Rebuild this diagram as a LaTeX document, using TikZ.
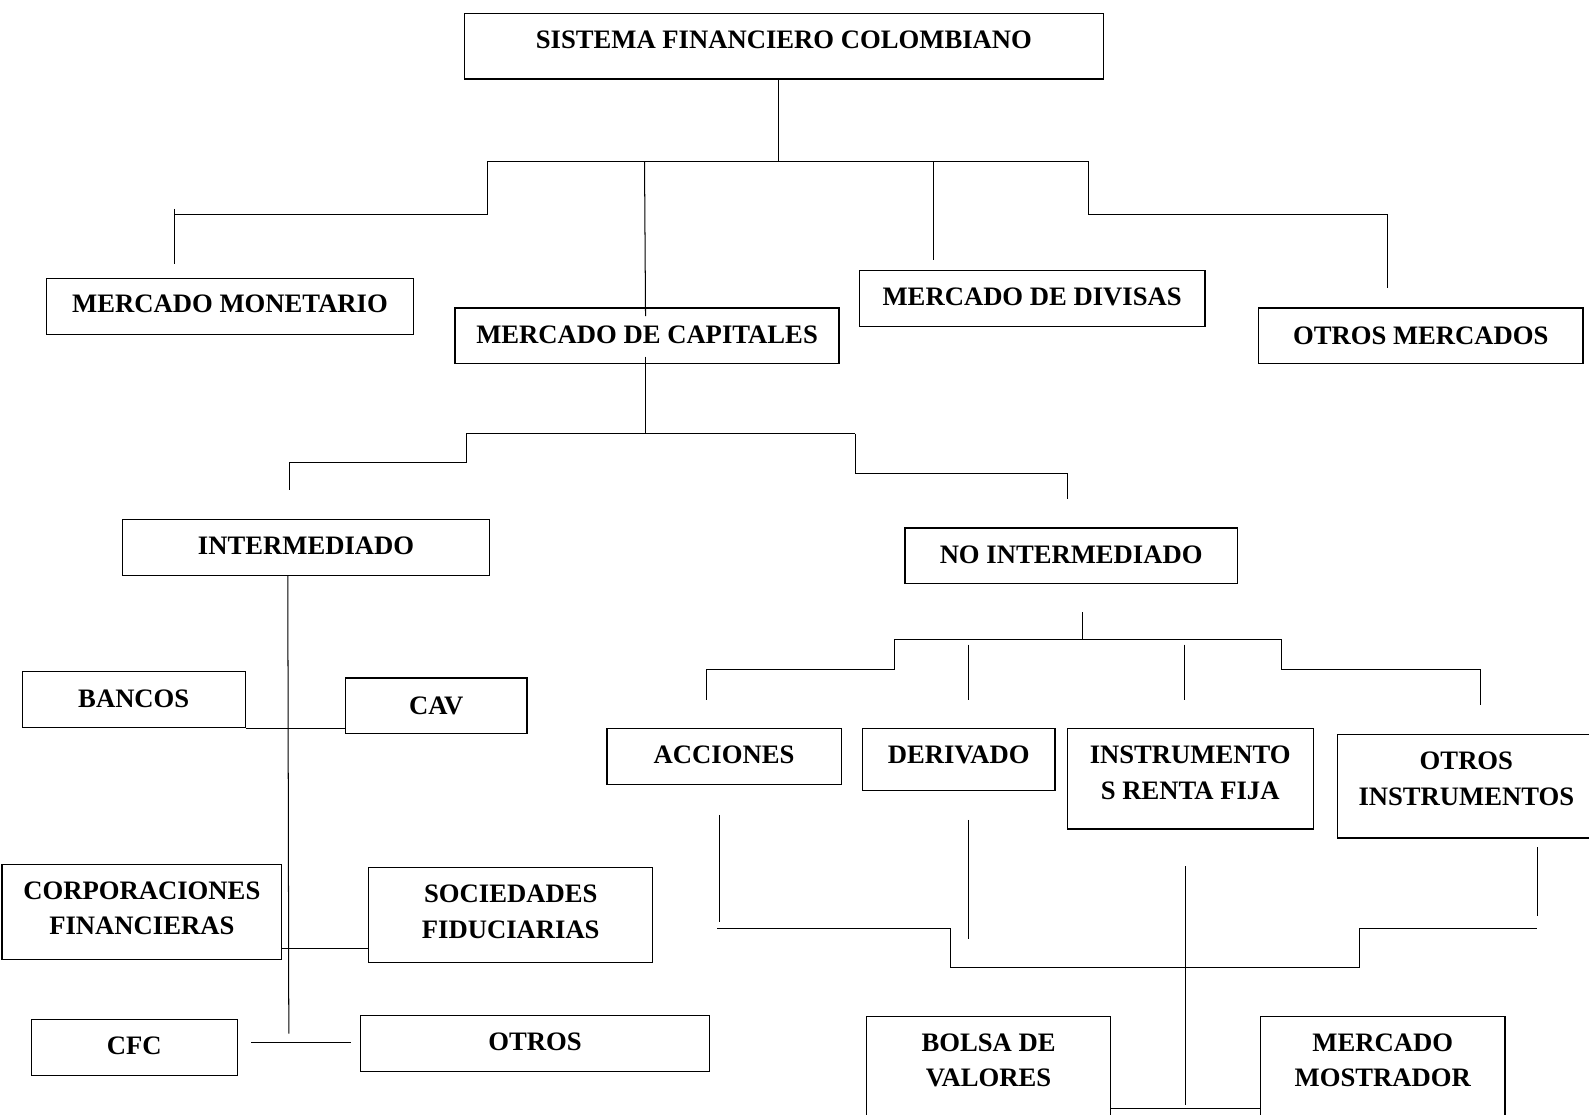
\documentclass[tikz,border=0pt]{standalone}
\usepackage{fontspec}
\setmainfont{Liberation Serif}

\newcommand{\rotulofont}{\fontsize{26.3}{35}\selectfont\bfseries}
% box: name, x1, y1, x2, y2, top of first line, text
\newcommand{\caja}[7]{%
  \node[caja, minimum width={(#4-#2)*1pt}, minimum height={(#5-#3)*1pt}]
    (#1) at ({(#2+#4)/2},{(#3+#5)/2}) {};
  \node[rotulo] (#1-txt) at ({(#2+#4)/2},#6) {#7};}

\begin{document}
\begin{tikzpicture}[x=1pt, y=-1pt,
    caja/.style={draw, line width=1.2pt, inner sep=0pt},
    rotulo/.style={font=\rotulofont, align=center, inner sep=0pt, anchor=north},
    linea/.style={line width=1pt}]
  \useasboundingbox (0,0) rectangle (1568,1100);

  % boxes
  \caja{sfc}{458}{13}{1089}{78}{30}{SISTEMA FINANCIERO COLOMBIANO}
  \caja{mon}{46}{275}{408}{330}{291}{MERCADO MONETARIO}
  \caja{cap}{449}{304}{828}{359}{321}{MERCADO DE CAPITALES}
  \caja{div}{848}{267}{1189}{322}{284}{MERCADO DE DIVISAS}
  \caja{otm}{1242}{304}{1562}{359}{322}{OTROS MERCADOS}
  \caja{int}{121}{513}{483}{568}{530}{INTERMEDIADO}
  \caja{noint}{893}{521}{1221}{576}{538}{NO INTERMEDIADO}
  \caja{ban}{22}{663}{242}{718}{681}{BANCOS}
  \caja{cav}{341}{669}{520}{724}{687}{CAV}
  \caja{cor}{2}{853}{278}{947}{870}{CORPORACIONES\\FINANCIERAS}
  \caja{soc}{364}{856}{644}{950}{873}{SOCIEDADES\\FIDUCIARIAS}
  \caja{cfc}{31}{1006}{234}{1061}{1023}{CFC}
  \caja{otr}{356}{1002}{700}{1057}{1019}{OTROS}
  \caja{acc}{599}{719}{830}{774}{736}{ACCIONES}
  \caja{der}{851}{719}{1041}{780}{736}{DERIVADO}
  \caja{irf}{1053}{719}{1296}{818}{736}{INSTRUMENTO\\S RENTA FIJA}
  \caja{oti}{1320}{725}{1574}{827}{742}{OTROS\\INSTRUMENTOS}
  \caja{bol}{855}{1003}{1096}{1112}{1020}{BOLSA DE\\VALORES}
  \caja{mos}{1244}{1003}{1485}{1112}{1020}{MERCADO\\MOSTRADOR}

  % junctions
  \coordinate (b1) at (768,159);
  \coordinate (b2) at (637,428);
  \coordinate (b3) at (1068,631);

  % first level
  \draw[linea] (sfc.south -| b1) -- (b1);
  \draw[linea] (481,159) -- (1074,159);
  \draw[linea] (481,159) -- (481,212) -- (172,212);
  \draw[linea] (172,206) -- (172,261);
  \draw[linea] (636,159) -- (637,312);
  \draw[linea] (921,159) -- (921,257);
  \draw[linea] (1074,159) -- (1074,212) -- (1369,212) -- (1369,284);

  % mercado de capitales
  \draw[linea] (637,352) -- (b2);
  \draw[linea] (460,428) -- (844,428);
  \draw[linea] (460,428) -- (460,456) -- (286,456) -- (286,484);
  \draw[linea] (844,428) -- (844,467) -- (1053,467) -- (1053,492);

  % intermediado
  \draw[linea] (int.south -| 284,0) -- (285,1020);
  \draw[linea] (ban.south east) -- (cav.west |- ban.south east);
  \draw[linea] (cor.east |- 0,936) -- (soc.west |- 0,936);
  \draw[linea] (248,1029) -- (346,1029);

  % no intermediado
  \draw[linea] (1068,604) -- (b3);
  \draw[linea] (883,631) -- (1265,631);
  \draw[linea] (883,631) -- (883,661) -- (697,661) -- (697,691);
  \draw[linea] (956,636) -- (956,691);
  \draw[linea] (1169,636) -- (1169,691);
  \draw[linea] (1265,631) -- (1265,661) -- (1461,661) -- (1461,696);

  % lower connectors
  \draw[linea] (710,804) -- (710,910);
  \draw[linea] (708,916) -- (938,916) -- (938,955) -- (1342,955) -- (1342,916) -- (1517,916);
  \draw[linea] (1517,836) -- (1517,904);
  \draw[linea] (956,809) -- (956,927);
  \draw[linea] (1170,855) -- (1170,1090);
  \draw[linea] (bol.east |- 0,1094) -- (mos.west |- 0,1094);
\end{tikzpicture}
\end{document}
